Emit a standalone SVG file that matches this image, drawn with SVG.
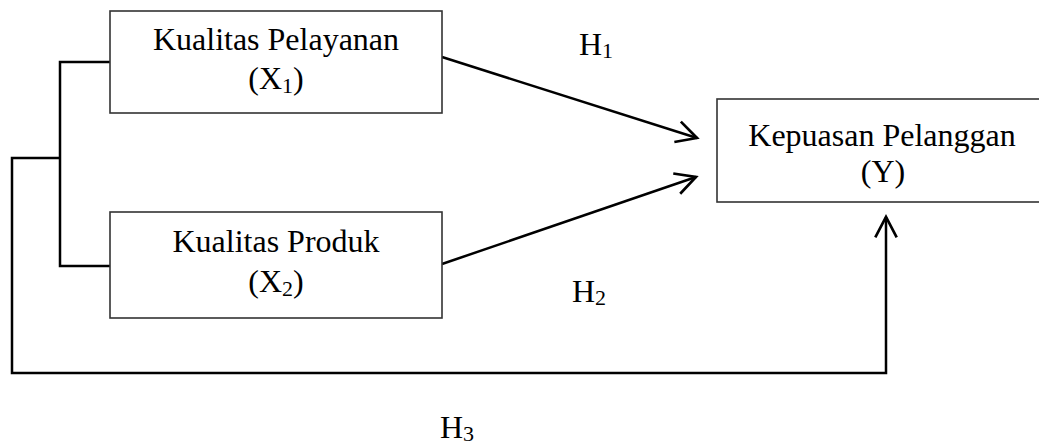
<svg xmlns="http://www.w3.org/2000/svg" width="1039" height="444" viewBox="0 0 1039 444">
<style>
.box{fill:#fff;stroke:#333;stroke-width:1.6}
.t{font-family:"Liberation Serif","Times New Roman",serif;font-size:32px;fill:#000;text-anchor:middle}
.l{font-family:"Liberation Serif","Times New Roman",serif;font-size:32px;fill:#000}
.sub{font-size:22px}
.c{fill:none;stroke:#000;stroke-width:2.5}
</style>
<defs>
<marker id="arr" markerUnits="userSpaceOnUse" markerWidth="30" markerHeight="30" refX="0" refY="0" viewBox="-22 -14 26 28" orient="auto">
<path d="M-19,-10 L0,0 L-19,10" fill="none" stroke="#000" stroke-width="2.5"/>
</marker>
</defs>
<rect width="1039" height="444" fill="#fff"/>
<g id="connectors">
<path class="c" d="M110,62 H60 V266 H111"/>
<path class="c" d="M60,158 H12 V373 H886 V217" marker-end="url(#arr)"/>
<path class="c" d="M442,57 L697,138" marker-end="url(#arr)"/>
<path class="c" d="M442,264 L696,177" marker-end="url(#arr)"/>
</g>
<g id="node-x1">
<rect class="box" x="110" y="11" width="332" height="102"/>
<text class="t" x="276" y="50">Kualitas Pelayanan</text>
<text class="t" x="276" y="89">(X<tspan class="sub" dy="4">1</tspan><tspan dy="-4">)</tspan></text>
</g>
<g id="node-x2">
<rect class="box" x="110" y="212" width="332" height="106"/>
<text class="t" x="276" y="252">Kualitas Produk</text>
<text class="t" x="276" y="292">(X<tspan class="sub" dy="4">2</tspan><tspan dy="-4">)</tspan></text>
</g>
<g id="node-y">
<rect class="box" x="717" y="99" width="330" height="103"/>
<text class="t" x="882" y="146">Kepuasan Pelanggan</text>
<text class="t" x="883" y="182">(Y)</text>
</g>
<g id="labels">
<text class="l" x="579" y="55">H<tspan class="sub" dy="3">1</tspan></text>
<text class="l" x="572" y="302">H<tspan class="sub" dy="3">2</tspan></text>
<text class="l" x="440" y="438">H<tspan class="sub" dy="3">3</tspan></text>
</g>
</svg>
